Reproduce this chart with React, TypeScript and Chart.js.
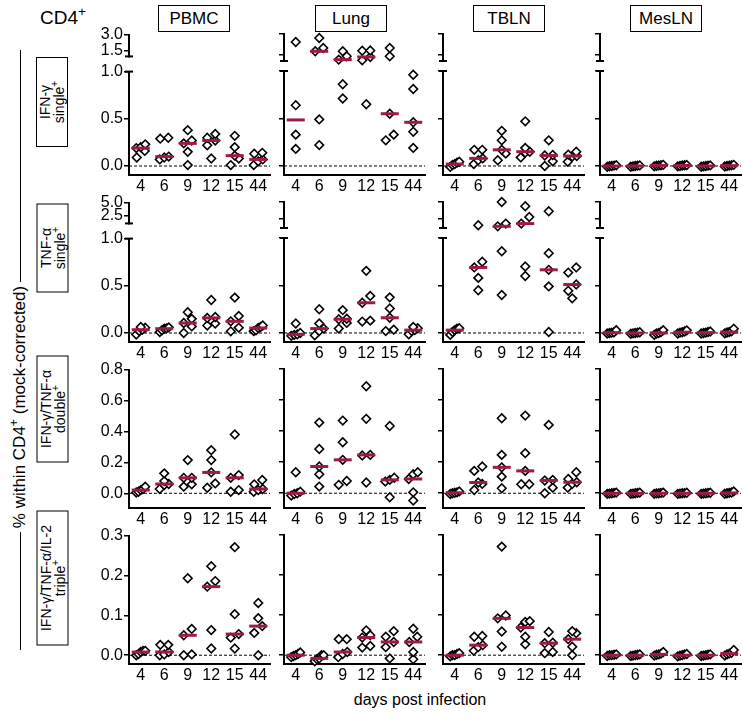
import React, { useEffect, useRef } from 'react';
import { Chart, registerables } from 'chart.js';
Chart.register(...registerables);

const FONT = '"Liberation Sans", Arial, Helvetica, sans-serif';
const MEDIAN_COLOR = '#9E1A43';

const DAYS = ['4', '6', '9', '12', '15', '44'];
const TISSUES = ['PBMC', 'Lung', 'TBLN', 'MesLN'];

// IFN-γ single+ : one list of mice per day (4, 6, 9, 12, 15, 44)
const ifnPBMC = [[0.09, 0.16, 0.19, 0.2, 0.23], [0.07, 0.09, 0.1, 0.29, 0.3], [0.01, 0.15, 0.24, 0.27, 0.38], [0.08, 0.22, 0.27, 0.3, 0.34], [0.01, 0.08, 0.11, 0.2, 0.32], [0.01, 0.05, 0.07, 0.13, 0.14]];
const ifnLung = [[0.18, 0.33, 0.64, 2.41], [0.22, 0.49, 1.72, 1.96, 2.7], [0.71, 0.86, 1.1, 1.35, 1.72], [0.65, 1.05, 1.3, 1.76, 1.78], [0.27, 0.33, 0.55, 1.35, 1.96], [0.19, 0.36, 0.46, 0.81, 0.96]];
const ifnTBLN = [[-0.01, 0.01, 0.02, 0.035, 0.045], [0.02, 0.06, 0.08, 0.17, 0.17], [0.06, 0.13, 0.17, 0.27, 0.37], [0.09, 0.14, 0.15, 0.19, 0.47], [0.0, 0.05, 0.11, 0.115, 0.27], [0.045, 0.1, 0.105, 0.12, 0.15]];
const ifnMesLN = [[-0.008, -0.003, 0.0, 0.004, 0.008], [-0.008, -0.004, 0.0, 0.003, 0.006], [-0.004, 0.002, 0.006, 0.008, 0.012], [-0.004, 0.0, 0.005, 0.008, 0.01], [-0.008, -0.004, 0.0, 0.004, 0.006], [-0.006, 0.0, 0.004, 0.008, 0.012]];

// TNF-α single+
const tnfPBMC = [[-0.015, 0.02, 0.035, 0.057, 0.064], [0.01, 0.03, 0.046, 0.05, 0.06], [0.0, 0.07, 0.106, 0.15, 0.22], [0.08, 0.1, 0.16, 0.17, 0.35], [0.018, 0.057, 0.124, 0.18, 0.375], [0.02, 0.03, 0.053, 0.064, 0.08]];
const tnfLung = [[-0.03, -0.02, -0.014, 0.0, 0.1], [-0.025, 0.02, 0.046, 0.1, 0.25], [0.046, 0.106, 0.145, 0.15, 0.24], [0.12, 0.13, 0.318, 0.39, 0.654], [0.02, 0.035, 0.16, 0.258, 0.375], [-0.014, 0.02, 0.03, 0.05, 0.064]];
const tnfTBLN = [[-0.02, 0.01, 0.03, 0.045, 0.05], [0.45, 0.58, 0.69, 0.75, 1.42], [0.4, 0.86, 1.26, 1.68, 5.0], [0.6, 0.7, 1.68, 2.69, 4.34], [0.01, 0.49, 0.665, 0.84, 3.57], [0.365, 0.445, 0.51, 0.636, 0.69]];
const tnfMesLN = [[-0.005, 0.0, 0.003, 0.008, 0.03], [-0.008, -0.004, 0.0, 0.004, 0.008], [-0.02, -0.005, 0.0, 0.01, 0.03], [-0.005, 0.003, 0.008, 0.015, 0.028], [-0.006, 0.0, 0.004, 0.01, 0.015], [-0.004, 0.005, 0.01, 0.018, 0.045]];

// IFN-γ/TNF-α double+
const dblPBMC = [[0.005, 0.01, 0.021, 0.028, 0.043], [0.028, 0.054, 0.06, 0.079, 0.129], [0.043, 0.058, 0.1, 0.1, 0.215], [0.036, 0.064, 0.135, 0.215, 0.279], [0.01, 0.021, 0.1, 0.118, 0.38], [0.01, 0.021, 0.028, 0.058, 0.086]];
const dblLung = [[-0.015, -0.005, 0.0, 0.01, 0.135], [0.043, 0.122, 0.172, 0.285, 0.455], [0.054, 0.079, 0.215, 0.328, 0.468], [0.069, 0.243, 0.247, 0.479, 0.689], [-0.026, 0.075, 0.086, 0.1, 0.433], [-0.047, 0.006, 0.092, 0.122, 0.135]];
const dblTBLN = [[-0.005, 0.0, 0.003, 0.006, 0.012], [0.021, 0.06, 0.069, 0.144, 0.172], [0.032, 0.107, 0.167, 0.247, 0.483], [0.058, 0.058, 0.144, 0.258, 0.5], [0.0, 0.036, 0.082, 0.086, 0.44], [0.036, 0.06, 0.071, 0.092, 0.135]];
const dblMesLN = [[-0.004, -0.002, 0.0, 0.002, 0.004], [-0.004, -0.002, 0.0, 0.002, 0.004], [-0.004, -0.001, 0.0, 0.002, 0.004], [-0.004, -0.002, 0.0, 0.001, 0.003], [-0.004, -0.002, 0.0, 0.002, 0.003], [-0.003, 0.0, 0.002, 0.005, 0.012]];

// IFN-γ/TNF-α/IL-2 triple+
const triPBMC = [[0.0, 0.003, 0.008, 0.011, 0.011], [0.0, 0.002, 0.008, 0.026, 0.026], [0.0, 0.002, 0.05, 0.066, 0.193], [0.017, 0.063, 0.172, 0.186, 0.223], [0.017, 0.044, 0.053, 0.103, 0.271], [0.0, 0.056, 0.073, 0.093, 0.131]];
const triLung = [[-0.005, -0.002, 0.0, 0.003, 0.007], [-0.015, -0.01, -0.008, 0.0, 0.0], [-0.005, 0.003, 0.008, 0.04, 0.04], [0.019, 0.023, 0.044, 0.05, 0.062], [-0.008, 0.02, 0.033, 0.046, 0.06], [-0.01, 0.008, 0.033, 0.046, 0.066]];
const triTBLN = [[-0.003, 0.0, 0.0, 0.003, 0.005], [0.011, 0.02, 0.025, 0.046, 0.048], [0.021, 0.059, 0.092, 0.099, 0.271], [0.027, 0.046, 0.069, 0.083, 0.085], [0.005, 0.008, 0.03, 0.031, 0.058], [0.0, 0.021, 0.04, 0.055, 0.06]];
const triMesLN = [[-0.002, 0.0, 0.0, 0.001, 0.002], [-0.002, -0.001, 0.0, 0.001, 0.002], [-0.001, 0.001, 0.002, 0.004, 0.008], [-0.003, -0.001, 0.0, 0.002, 0.003], [-0.002, -0.001, 0.0, 0.001, 0.002], [-0.001, 0.002, 0.004, 0.006, 0.013]];

// axis ticks
const TICKS_LOW_1 = [0, 0.5, 1.0];
const TICKS_UP_IFN = [1.5, 3.0];
const TICKS_UP_TNF = [2.5, 5.0];
const TICKS_DBL = [0, 0.2, 0.4, 0.6, 0.8];
const TICKS_TRI = [0, 0.1, 0.2, 0.3];

type Seg = { min: number; max: number; ticks: number[]; top: number; bottom: number };
type Row = { data: number[][][]; split: number; lower: Seg; upper?: Seg };

const ROWS: Row[] = [
  {
    data: [ifnPBMC, ifnLung, ifnTBLN, ifnMesLN], split: 1.0,
    lower: { min: -0.095, max: 1.0, ticks: TICKS_LOW_1, top: 71, bottom: 175 },
    upper: { min: 1.0, max: 3.0, ticks: TICKS_UP_IFN, top: 34, bottom: 61 },
  },
  {
    data: [tnfPBMC, tnfLung, tnfTBLN, tnfMesLN], split: 1.0,
    lower: { min: -0.095, max: 1.0, ticks: TICKS_LOW_1, top: 238, bottom: 342 },
    upper: { min: 1.0, max: 5.0, ticks: TICKS_UP_TNF, top: 202, bottom: 228 },
  },
  {
    data: [dblPBMC, dblLung, dblTBLN, dblMesLN], split: Infinity,
    lower: { min: -0.095, max: 0.8, ticks: TICKS_DBL, top: 369, bottom: 508 },
  },
  {
    data: [triPBMC, triLung, triTBLN, triMesLN], split: Infinity,
    lower: { min: -0.022, max: 0.3, ticks: TICKS_TRI, top: 535, bottom: 664 },
  },
];

const COL_X = [129, 284, 443, 600];
const PLOT_W = 141;
const CAT_W = PLOT_W / 6;
const Y_W = 44;
const PAD_T = 10;
const PAD_R = 1;
const X_H = 24;
const PAD_B = 6;

function median(a: number[]) {
  const s = [...a].sort((x, y) => x - y);
  const n = s.length;
  return n % 2 ? s[(n - 1) / 2] : (s[n / 2 - 1] + s[n / 2]) / 2;
}

function pixelOf(row: Row, v: number) {
  const L = row.lower;
  if (!row.upper || v <= row.split) return L.bottom - ((v - L.min) / (L.max - L.min)) * (L.bottom - L.top);
  const U = row.upper;
  return U.bottom - ((v - U.min) / (U.max - U.min)) * (U.bottom - U.top);
}

// spread points that would overlap (in pixel space) symmetrically around the category centre
function swarm(vals: number[], pix: (v: number) => number) {
  const idx = vals.map((_, i) => i).sort((a, b) => vals[a] - vals[b]);
  const offs = new Array(vals.length).fill(0);
  let k = 0;
  while (k < idx.length) {
    let e = k + 1;
    while (e < idx.length && Math.abs(pix(vals[idx[e]]) - pix(vals[idx[k]])) < 7) e++;
    const n = e - k;
    const step = n > 1 ? Math.min(8, 9 / (n - 1)) : 0;
    for (let j = 0; j < n; j++) offs[idx[k + j]] = (j - (n - 1) / 2) * step;
    k = e;
  }
  return offs;
}

function SegmentChart({ row, col, part }: { row: Row; col: number; part: 'lower' | 'upper' }) {
  const ref = useRef<HTMLCanvasElement>(null);
  const seg = (part === 'upper' ? row.upper : row.lower) as Seg;
  const showX = part === 'lower';
  const broken = !!row.upper;
  const width = Y_W + PLOT_W + PAD_R;
  const height = PAD_T + (seg.bottom - seg.top) + (showX ? X_H : PAD_B);

  useEffect(() => {
    const groups = row.data[col];
    const inSeg = (v: number) => (!broken ? true : part === 'upper' ? v > row.split : v <= row.split);
    const pts: { x: number; y: number }[] = [];
    const meds: { x: number; y: number }[] = [];
    groups.forEach((vals, i) => {
      const offs = swarm(vals, (v) => pixelOf(row, v));
      vals.forEach((v, j) => {
        if (inSeg(v)) pts.push({ x: i + offs[j] / CAT_W, y: v });
      });
      const m = median(vals);
      if (inSeg(m)) meds.push({ x: i, y: m });
    });

    const datasets: any[] = [
      {
        type: 'scatter', data: meds, pointStyle: 'line', pointRadius: 9, pointHoverRadius: 9,
        borderWidth: 3, borderColor: MEDIAN_COLOR, backgroundColor: MEDIAN_COLOR, clip: false,
      },
      {
        type: 'scatter', data: pts, pointStyle: 'rectRot', pointRadius: 4.3, pointHoverRadius: 4.3,
        borderWidth: 1.6, borderColor: '#000', backgroundColor: '#fff', clip: false,
      },
    ];
    if (showX) {
      datasets.push({
        type: 'line', data: [{ x: -0.5, y: 0 }, { x: 5.5, y: 0 }], borderColor: '#000', borderWidth: 1,
        borderDash: [3, 2], pointRadius: 0, fill: false, clip: false,
      });
    }

    const breakPlugin = {
      id: 'breakMarks',
      afterDraw(chart: any) {
        if (!broken) return;
        const { ctx, chartArea } = chart;
        ctx.save();
        ctx.strokeStyle = '#000';
        ctx.lineWidth = 2;
        const y = part === 'upper' ? chartArea.bottom : chartArea.top;
        ctx.beginPath();
        ctx.moveTo(chartArea.left - 4, y);
        ctx.lineTo(chartArea.left + 4, y);
        ctx.stroke();
        ctx.restore();
      },
    };

    const chart = new Chart(ref.current as HTMLCanvasElement, {
      type: 'scatter',
      data: { datasets },
      options: {
        animation: false,
        responsive: false,
        maintainAspectRatio: false,
        devicePixelRatio: 1,
        events: [],
        layout: { autoPadding: false, padding: { top: PAD_T, right: PAD_R, bottom: showX ? 0 : PAD_B, left: 0 } },
        plugins: { legend: { display: false }, tooltip: { enabled: false } },
        scales: {
          x: {
            type: 'linear', min: -0.5, max: 5.5, display: showX,
            afterBuildTicks: (s: any) => { s.ticks = DAYS.map((_, i) => ({ value: i })); },
            afterFit: (s: any) => { s.height = showX ? X_H : 0; },
            ticks: {
              callback: (v: any) => DAYS[Math.round(Number(v))], color: '#000',
              font: { family: FONT, size: 16 }, padding: 2, maxRotation: 0, autoSkip: false,
            },
            grid: { display: false, drawTicks: false },
            border: { display: true, color: '#000', width: 2 },
          },
          y: {
            type: 'linear', min: seg.min, max: seg.max,
            afterBuildTicks: (s: any) => { s.ticks = seg.ticks.map((v) => ({ value: v })); },
            afterFit: (s: any) => { s.width = Y_W; },
            ticks: {
              display: col === 0, callback: (v: any) => Number(v).toFixed(1), color: '#000',
              font: { family: FONT, size: 16 }, padding: 1, autoSkip: false,
            },
            grid: { display: true, drawOnChartArea: false, drawTicks: true, tickLength: 5, color: '#000', lineWidth: 1.5 },
            border: { display: true, color: '#000', width: 2 },
          },
        },
      } as any,
      plugins: [breakPlugin],
    });
    return () => chart.destroy();
  }, []);

  return (
    <canvas
      ref={ref}
      width={width}
      height={height}
      style={{ position: 'absolute', left: COL_X[col] - Y_W, top: seg.top - PAD_T, width, height }}
    />
  );
}

const HEADER_LEFT = [158, 315, 473, 630];
const HEADER_W = 72;
const ROW_BOX = [
  { top: 57, bottom: 147, l1: 'IFN-γ', l2: 'single' },
  { top: 203, bottom: 292, l1: 'TNF-α', l2: 'single' },
  { top: 355, bottom: 462, l1: 'IFN-γ/TNF-α', l2: 'double' },
  { top: 510, bottom: 645, l1: 'IFN-γ/TNF-α/IL-2', l2: 'triple' },
];
const ROW_BOX_LEFT = 36;
const ROW_BOX_W = 32;

const supStyle: React.CSSProperties = { fontSize: '0.72em', verticalAlign: 'baseline', position: 'relative', top: '-0.55em', lineHeight: 0 };

export default function App() {
  return (
    <div style={{ position: 'absolute', left: 0, top: 0, width: 742, height: 725, overflow: 'hidden', background: '#fff', fontFamily: FONT, color: '#000' }}>
      <div style={{ position: 'absolute', left: 40, top: 7, fontSize: 19, lineHeight: '22px' }}>
        CD4<span style={supStyle}>+</span>
      </div>
      {TISSUES.map((t, i) => (
        <div key={t} style={{ position: 'absolute', left: HEADER_LEFT[i], top: 5, width: HEADER_W, height: 27, boxSizing: 'border-box', border: '1px solid #000', fontSize: 17, lineHeight: '25px', textAlign: 'center' }}>{t}</div>
      ))}
      {ROW_BOX.map((b, i) => {
        const h = b.bottom - b.top;
        return (
          <div key={i} style={{
            position: 'absolute', left: ROW_BOX_LEFT + ROW_BOX_W / 2 - h / 2, top: (b.top + b.bottom) / 2 - ROW_BOX_W / 2,
            width: h, height: ROW_BOX_W, boxSizing: 'border-box', border: '1px solid #000', transform: 'rotate(-90deg)',
            fontSize: 14, lineHeight: '14px', textAlign: 'center', display: 'flex', flexDirection: 'column', justifyContent: 'center',
            whiteSpace: 'nowrap',
          }}>
            <div>{b.l1}</div>
            <div>{b.l2}<span style={supStyle}>+</span></div>
          </div>
        );
      })}
      <div style={{ position: 'absolute', left: 20, top: 50, height: 600, borderLeft: '1px solid #000' }} />
      <div style={{
        position: 'absolute', left: 20 - 140, top: 407 - 11, width: 280, height: 22, transform: 'rotate(-90deg)',
        textAlign: 'center', fontSize: 17, lineHeight: '22px', whiteSpace: 'nowrap',
      }}>
        <span style={{ background: '#fff', padding: '0 4px' }}>% within CD4<span style={supStyle}>+</span> (mock-corrected)</span>
      </div>
      <div style={{ position: 'absolute', left: 320, width: 200, top: 690, textAlign: 'center', fontSize: 16, lineHeight: '20px' }}>days post infection</div>
      {ROWS.map((row, r) =>
        TISSUES.map((_, c) => (
          <React.Fragment key={`${r}-${c}`}>
            <SegmentChart row={row} col={c} part="lower" />
            {row.upper ? <SegmentChart row={row} col={c} part="upper" /> : null}
          </React.Fragment>
        ))
      )}
    </div>
  );
}
